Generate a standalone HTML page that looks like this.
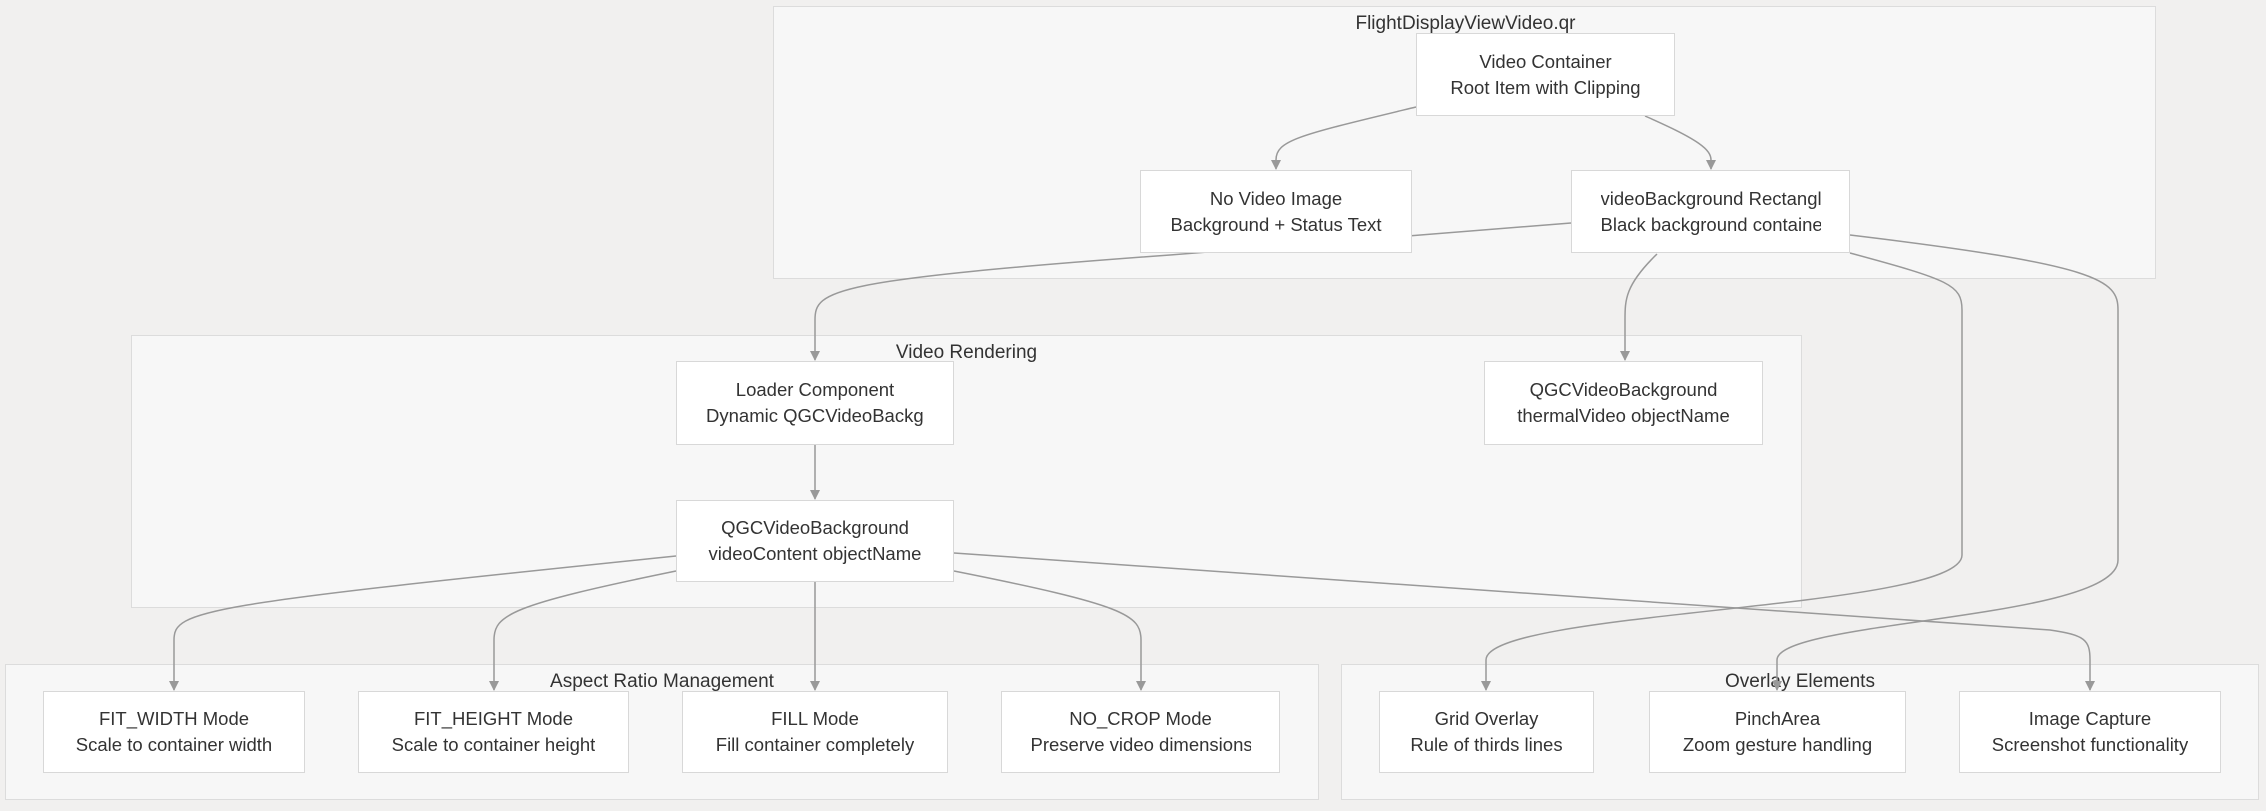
<!DOCTYPE html>
<html><head><meta charset="utf-8"><style>
body{margin:0;width:2266px;height:811px;background:#f1f0ef;position:relative;overflow:hidden;font-family:"Liberation Sans",sans-serif;color:#333}
.c{position:absolute;background:#f7f7f7;border:1.5px solid #dcdcdc;box-sizing:border-box}
.cl{position:absolute;left:0;right:0;top:6px;text-align:center;font-size:19px;white-space:nowrap}
.n{position:absolute;background:#fff;border:1.5px solid #d8d8d8;box-sizing:border-box;display:flex;align-items:center;justify-content:center;font-size:18.5px;line-height:26px}
.n div{white-space:nowrap;overflow:hidden;text-align:center}
svg{position:absolute;left:0;top:0}
</style></head><body>
<div class="c" style="left:773px;top:6px;width:1383px;height:273px"><div class="cl" style="left:0;width:1383px">FlightDisplayViewVideo.qr</div></div>
<div class="c" style="left:131px;top:335px;width:1671px;height:273px"><div class="cl">Video Rendering</div></div>
<div class="c" style="left:5px;top:664px;width:1314px;height:136px"><div class="cl">Aspect Ratio Management</div></div>
<div class="c" style="left:1341px;top:664px;width:918px;height:136px"><div class="cl">Overlay Elements</div></div>

<svg width="2266" height="811">
<defs><marker id="a" markerWidth="10" markerHeight="10" refX="9" refY="5" orient="auto" markerUnits="userSpaceOnUse"><path d="M0,0 L10,5 L0,10 z" fill="#999"/></marker></defs>
<g fill="none" stroke="#999" stroke-width="1.5" marker-end="url(#a)">
<path d="M1416,107 C1300,135 1276,140 1276,160 L1276,169"/>
<path d="M1645,116 C1700,140 1711,150 1711,160 L1711,169"/>
<path d="M1571,223 L1170,255 C830,280 815,290 815,320 L815,360"/>
<path d="M1657,254 C1625,285 1625,300 1625,320 L1625,360"/>
<path d="M1850,253 C1950,280 1962,285 1962,310 L1962,555 C1962,610 1486,610 1486,660 L1486,690"/>
<path d="M1850,235 C2100,265 2118,280 2118,310 L2118,560 C2118,620 1777,620 1777,660 L1777,690"/>
<path d="M815,445 L815,499"/>
<path d="M676,556 C200,605 174,610 174,640 L174,690"/>
<path d="M676,571 C510,605 494,615 494,640 L494,690"/>
<path d="M815,582 L815,690"/>
<path d="M954,571 C1125,605 1141,615 1141,640 L1141,690"/>
<path d="M954,553 L2050,630 C2085,635 2090,640 2090,660 L2090,690"/>
</g></svg>

<div class="n" style="left:1416px;top:33px;width:259px;height:83px"><div>Video Container<br>Root Item with Clipping</div></div>
<div class="n" style="left:1140px;top:170px;width:272px;height:83px"><div>No Video Image<br>Background + Status Text</div></div>
<div class="n" style="left:1571px;top:170px;width:279px;height:83px"><div style="width:220px">videoBackground Rectangle<br>Black background container</div></div>
<div class="n" style="left:676px;top:361px;width:278px;height:84px"><div style="width:218px">Loader Component<br>Dynamic QGCVideoBackground</div></div>
<div class="n" style="left:1484px;top:361px;width:279px;height:84px"><div>QGCVideoBackground<br>thermalVideo objectName</div></div>
<div class="n" style="left:676px;top:500px;width:278px;height:82px"><div style="width:218px">QGCVideoBackground<br>videoContent objectName</div></div>
<div class="n" style="left:43px;top:691px;width:262px;height:82px"><div>FIT_WIDTH Mode<br>Scale to container width</div></div>
<div class="n" style="left:358px;top:691px;width:271px;height:82px"><div>FIT_HEIGHT Mode<br>Scale to container height</div></div>
<div class="n" style="left:682px;top:691px;width:266px;height:82px"><div>FILL Mode<br>Fill container completely</div></div>
<div class="n" style="left:1001px;top:691px;width:279px;height:82px"><div style="width:220px">NO_CROP Mode<br>Preserve video dimensions</div></div>
<div class="n" style="left:1379px;top:691px;width:215px;height:82px"><div>Grid Overlay<br>Rule of thirds lines</div></div>
<div class="n" style="left:1649px;top:691px;width:257px;height:82px"><div>PinchArea<br>Zoom gesture handling</div></div>
<div class="n" style="left:1959px;top:691px;width:262px;height:82px"><div>Image Capture<br>Screenshot functionality</div></div>
</body></html>
